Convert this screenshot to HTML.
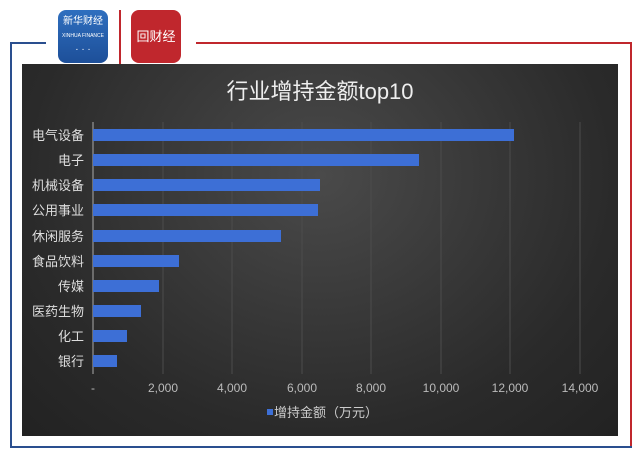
<!DOCTYPE html>
<html><head><meta charset="utf-8"><style>
body{margin:0;background:#fff;width:640px;height:458px;overflow:hidden;position:relative;font-family:"Liberation Sans","Noto Sans CJK SC",sans-serif}
.a{position:absolute}
</style></head><body>
<div class="a" style="left:10px;top:42px;width:36px;height:2px;background:#2a4f8f"></div>
<div class="a" style="left:10px;top:42px;width:2px;height:406px;background:#2a4f8f"></div>
<div class="a" style="left:10px;top:446px;width:622px;height:2px;background:#2a4f8f"></div>
<div class="a" style="left:196px;top:42px;width:436px;height:2px;background:#c0272d"></div>
<div class="a" style="left:630px;top:42px;width:2px;height:404px;background:#c0272d"></div>
<div class="a" style="left:58px;top:10px;width:50px;height:53px;border-radius:8px;background:linear-gradient(#2f6fbf,#1d4f99);color:#fff;font-size:10px;text-align:center;line-height:13px;padding-top:5px;box-sizing:border-box">新华财经<br><span style="font-size:5px">XINHUA FINANCE</span><br>· · ·</div>
<div class="a" style="left:119px;top:10px;width:2px;height:60px;background:#c0272d"></div>
<div class="a" style="left:131px;top:10px;width:50px;height:53px;border-radius:8px;background:#c0272d;color:#fff;font-size:13px;text-align:center;line-height:53px">回财经</div>
<div class="a" style="left:22px;top:64px;width:596px;height:372px;background:radial-gradient(ellipse at 50% 30%,#4a4a4a,#2a2a2a 70%,#222)"></div>
<div class="a" style="left:22px;top:74px;width:596px;text-align:center;color:#eee;font-size:22px">行业增持金额top10</div>
<svg class="a" style="left:0;top:0" width="640" height="458">
<g stroke="#4c4c4c" stroke-width="1">
<line x1="163" y1="122" x2="163" y2="374"/><line x1="232" y1="122" x2="232" y2="374"/><line x1="302" y1="122" x2="302" y2="374"/><line x1="371" y1="122" x2="371" y2="374"/><line x1="441" y1="122" x2="441" y2="374"/><line x1="510" y1="122" x2="510" y2="374"/><line x1="580" y1="122" x2="580" y2="374"/>
</g>
<line x1="93" y1="122" x2="93" y2="374" stroke="#aaa"/>
<g fill="#3d6fd6">
<rect x="93" y="129" width="421" height="12"/><rect x="93" y="154" width="326" height="12"/><rect x="93" y="179" width="227" height="12"/><rect x="93" y="204" width="225" height="12"/><rect x="93" y="230" width="188" height="12"/><rect x="93" y="255" width="86" height="12"/><rect x="93" y="280" width="66" height="12"/><rect x="93" y="305" width="48" height="12"/><rect x="93" y="330" width="34" height="12"/><rect x="93" y="355" width="24" height="12"/>
</g>
<g fill="#ddd" font-size="13" text-anchor="end" font-family="Liberation Sans,Noto Sans CJK SC,sans-serif">
<text x="84" y="140">电气设备</text><text x="84" y="165">电子</text><text x="84" y="190">机械设备</text><text x="84" y="215">公用事业</text><text x="84" y="241">休闲服务</text><text x="84" y="266">食品饮料</text><text x="84" y="291">传媒</text><text x="84" y="316">医药生物</text><text x="84" y="341">化工</text><text x="84" y="366">银行</text>
</g>
<g fill="#bbb" font-size="12" text-anchor="middle" font-family="Liberation Sans,sans-serif">
<text x="93" y="392">-</text><text x="163" y="392">2,000</text><text x="232" y="392">4,000</text><text x="302" y="392">6,000</text><text x="371" y="392">8,000</text><text x="441" y="392">10,000</text><text x="510" y="392">12,000</text><text x="580" y="392">14,000</text>
</g>
<rect x="267" y="409" width="6" height="6" fill="#3d6fd6"/>
<text x="274" y="417" fill="#ccc" font-size="13" font-family="Liberation Sans,Noto Sans CJK SC,sans-serif">增持金额（万元）</text>
</svg>
</body></html>
